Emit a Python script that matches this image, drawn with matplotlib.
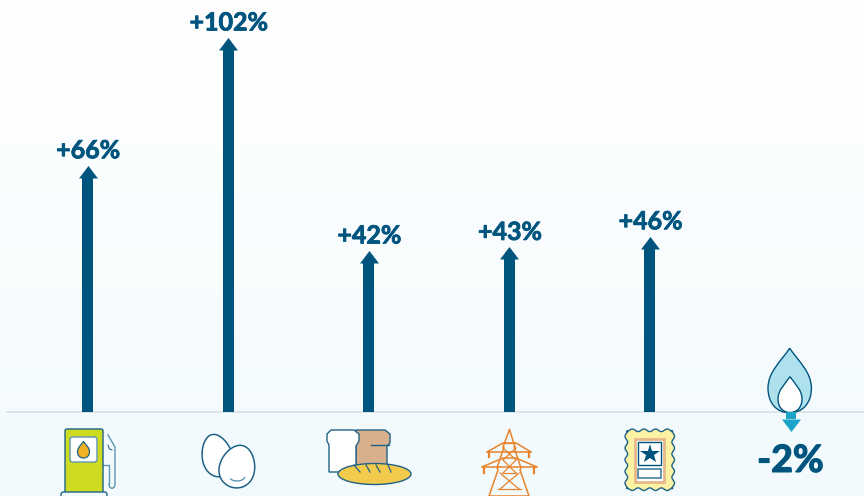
import numpy as np
import matplotlib
matplotlib.use("Agg")
import matplotlib.pyplot as plt
import matplotlib.patheffects as pe
from matplotlib.path import Path
from matplotlib.patches import PathPatch, Polygon, FancyBboxPatch, Rectangle, Ellipse

categories = ["Fuel", "Eggs", "Bread", "Electricity", "Stamps", "Gas"]
values = [66, 102, 42, 43, 46, -2]
labels = ["+66%", "+102%", "+42%", "+43%", "+46%", "-2%"]

NAVY = "#00557F"
LINE = "#1F6287"
W, H = 864, 496
plt.rcParams["font.family"] = ["Lato", "DejaVu Sans"]
fig = plt.figure(figsize=(W / 100, H / 100), dpi=100)

# pixel-space layer: background and pictograms
px = fig.add_axes([0, 0, 1, 1], zorder=1)
px.set_xlim(0, W); px.set_ylim(H, 0); px.axis("off")
grad = np.linspace(0, 1, 256).reshape(-1, 1)
top, bot = np.array([1, 1, 1.0]), np.array([0xF2, 0xFA, 0xFD]) / 255
img = top + (bot - top) * np.clip(grad * 1.02, 0, 1)[:, :, None]
px.imshow(img, extent=[0, W, H, 0], aspect="auto", zorder=0)
px.plot([7, W], [412, 412], color="#D8E0E6", lw=1.2, zorder=1)


def drop(cx, top_y, bot_y, hw, **kw):
    my = top_y + (bot_y - top_y) * 0.62
    p = Path([(cx, top_y), (cx - hw * 0.45, top_y + (my - top_y) * 0.35), (cx - hw, my - (my - top_y) * 0.4), (cx - hw, my),
              (cx - hw, my + (bot_y - my) * 0.6), (cx - hw * 0.6, bot_y), (cx, bot_y),
              (cx + hw * 0.6, bot_y), (cx + hw, my + (bot_y - my) * 0.6), (cx + hw, my),
              (cx + hw, my - (my - top_y) * 0.4), (cx + hw * 0.45, top_y + (my - top_y) * 0.35), (cx, top_y)],
             [Path.MOVETO] + [Path.CURVE4] * 12)
    px.add_patch(PathPatch(p, **kw))


def rbox(x0, y0, x1, y1, r, **kw):
    px.add_patch(FancyBboxPatch((x0 + r, y0 + r), x1 - x0 - 2 * r, y1 - y0 - 2 * r,
                                boxstyle=f"round,pad={r},rounding_size={r}", **kw))


def egg(cx, cy, rx, ry, tilt, **kw):
    t = np.linspace(0, 2 * np.pi, 120)
    ex = rx * np.cos(t) * (1 + 0.14 * np.sin(t))
    ey = ry * np.sin(t)
    a = np.deg2rad(tilt)
    px.add_patch(Polygon(np.c_[cx + ex * np.cos(a) - ey * np.sin(a), cy + ex * np.sin(a) + ey * np.cos(a)], **kw))


# fuel pump
px.plot([103, 109, 109], [465, 465, 484], color="#5E97B3", lw=1.0, zorder=3)
px.plot([109, 109.5, 112, 114.5, 115, 115, 108], [484, 487, 488.5, 487, 484, 447, 435], color="#5E97B3", lw=1.0, zorder=3)
px.plot([108, 109.5, 112], [445, 449, 450], color=LINE, lw=0.7, zorder=3)
rbox(65, 429, 103, 493, 2, fc="#CEDC21", ec=LINE, lw=1.0, zorder=3)
rbox(70, 437, 97, 462, 2.5, fc="white", ec="#5E97B3", lw=1.0, zorder=4)
drop(83.5, 441.5, 458, 6, fc="#F2B124", ec=LINE, lw=0.9, zorder=5)
rbox(61, 492, 107, 500, 2.5, fc="#F2FAFD", ec=LINE, lw=1.0, zorder=4)

# eggs
egg(217, 455.5, 15, 21.5, -14, fc="white", ec=LINE, lw=1.1, zorder=3)
egg(237.5, 466.5, 17.5, 21.5, 14, fc="white", ec=LINE, lw=1.1, zorder=4)
t = np.linspace(0.1, 0.8, 20) * np.pi
px.plot(237 + 8 * np.cos(t), 476 + 5 * np.sin(t), color="#5E97B3", lw=1.0, zorder=5)

# bread
px.add_patch(Polygon([(356, 430), (385, 430), (390, 434), (390, 443), (387, 446), (387, 470), (356, 470)],
                     fc="#D8B08C", ec=LINE, lw=1.0, zorder=3))
px.plot([371, 389], [445, 445], color=LINE, lw=1.0, zorder=3)
px.add_patch(Polygon([(331, 430), (354, 430), (359, 434), (359, 441), (356, 446), (356, 472), (329, 472),
                      (329, 445), (327, 441), (327, 434)], fc="white", ec=LINE, lw=1.0, zorder=4))
px.add_patch(Ellipse((374.5, 474), 73, 21, fc="#F2CB4C", ec=LINE, lw=1.0, zorder=5))
for a, b in [(354, 363), (366, 373), (376, 383), (388, 394)]:
    px.plot([a, b - 3], [465, 472], color=LINE, lw=0.9, zorder=6)

# pylon
O = "#E8832A"
tw = dict(color=O, lw=1.1, zorder=3, solid_capstyle="round")
px.plot([509.5, 503, 504, 497, 498, 489, 500, 518, 529, 520, 521, 514, 515, 509.5],
        [429.5, 447, 447, 468, 470, 496, 496, 496, 496, 470, 468, 447, 447, 429.5], **tw)
for xa, xb, y0, y1 in [(503, 515.5, 443, 443), (503, 516, 448, 460), (516, 503, 448, 460),
                       (503, 516, 460, 473), (516, 503, 460, 473), (503, 516, 473, 473),
                       (500, 519, 473, 489), (519, 500, 473, 489), (498, 521, 489, 489)]:
    px.plot([xa, xb], [y0, y1], color=O, lw=0.9, zorder=3)
px.plot([487, 503, 516, 531], [452, 443, 443, 452], **tw)
px.plot([487, 531], [452, 452], **tw)
px.plot([482, 503, 516, 537], [467, 458, 458, 467], **tw)
px.plot([482, 537], [467, 467], **tw)
for xx, y0, y1 in [(489, 452, 457), (529, 452, 457), (484, 467, 473), (534, 467, 473)]:
    px.plot([xx, xx], [y0, y1], color=O, lw=1.6, zorder=3)

# stamp
x0, x1, y0, y1 = 626.5, 673, 430.5, 489
n_x, n_y = 4, 5
pts = []
for s in np.linspace(0, 1, 80):
    pts.append((x0 + (x1 - x0) * s, y0 + 1.3 * np.cos(2 * np.pi * n_x * s) - 0.2))
for s in np.linspace(0, 1, 100):
    pts.append((x1 - 1.3 * np.cos(2 * np.pi * n_y * s) + 0.2, y0 + (y1 - y0) * s))
for s in np.linspace(1, 0, 80):
    pts.append((x0 + (x1 - x0) * s, y1 - 1.3 * np.cos(2 * np.pi * n_x * s) + 0.2))
for s in np.linspace(1, 0, 100):
    pts.append((x0 + 1.3 * np.cos(2 * np.pi * n_y * s) - 0.2, y0 + (y1 - y0) * s))
px.add_patch(Polygon(pts, fc="#FBF3A3", ec=LINE, lw=1.0, zorder=3))
px.add_patch(Rectangle((634.5, 439), 29.5, 43, fc="white", ec="#E8B88A", lw=2.0, zorder=4))
px.add_patch(Rectangle((638, 442), 23, 22.5, fc="white", ec=NAVY, lw=1.0, zorder=5))
px.add_patch(Rectangle((638, 468.5), 23, 9.5, fc="white", ec="#44809F", lw=1.2, zorder=5))
px.plot([649.5], [453.5], marker="*", ms=15, color=NAVY, mew=0, zorder=6)

# gas flame
drop(789.7, 348.3, 412.8, 21.7, fc="#AEE0EE", ec=NAVY, lw=1.0, zorder=6)
drop(790, 376.7, 412.5, 12, fc="white", ec=NAVY, lw=1.0, zorder=7)

# data layer: value axis with baseline at y=412 px, 3.55 px per point
ax = fig.add_axes([0, 0, 1, 1], zorder=2)
ax.patch.set_alpha(0)
ax.axis("off")
ax.set_xlim(-87.5 / 140.6, (W - 87.5) / 140.6)
ax.set_ylim(-(H - 412) / 3.55, 412 / 3.55)

x = np.arange(len(values))
up = Path([(-9.5, 0), (9.5, 0), (0, 12.5), (-9.5, 0)], closed=True)
down = Path([(-9.5, 0), (9.5, 0), (0, -12.5), (-9.5, 0)], closed=True)
bar_w = 11 / 140.6
for i, (v, lab) in enumerate(zip(values, labels)):
    col = NAVY if v >= 0 else "#1BA3C9"
    ax.bar(x[i], v, width=bar_w if v >= 0 else 10 / 140.6, color=col, zorder=3)
    ax.plot([x[i]], [v], marker=up if v >= 0 else down, ms=18, color=col, mew=0, zorder=3, clip_on=False)
    if v >= 0:
        tx = ax.annotate(lab, (x[i], v), xytext=(0.5, 14), textcoords="offset points",
                         ha="center", va="baseline", fontsize=18, fontweight="bold", color=NAVY)
        tx.set_path_effects([pe.withStroke(linewidth=0.6, foreground=NAVY)])
    else:
        tx = ax.annotate(lab, (x[i], v), xytext=(0, -38), textcoords="offset points",
                         ha="center", va="baseline", fontsize=27, fontweight="bold", color=NAVY)
        tx.set_path_effects([pe.withStroke(linewidth=0.9, foreground=NAVY)])

fig.savefig("out.png", dpi=100)
